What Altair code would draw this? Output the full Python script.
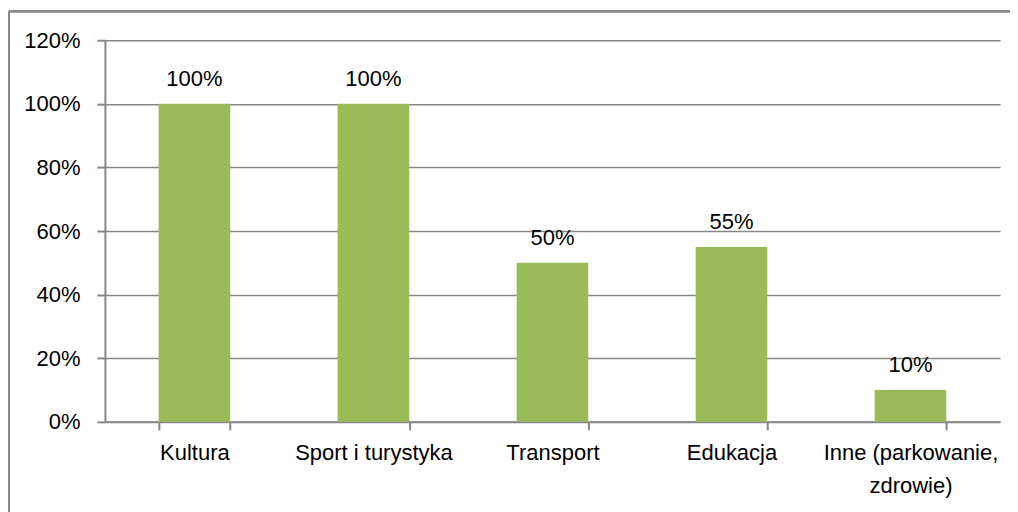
import altair as alt
import pandas as pd

categories = ["Kultura", "Sport i turystyka", "Transport", "Edukacja", "Inne (parkowanie, zdrowie)"]
values = [1.00, 1.00, 0.50, 0.55, 0.10]
labels = ["100%", "100%", "50%", "55%", "10%"]
y_ticks = [0, 0.2, 0.4, 0.6, 0.8, 1.0, 1.2]

df = pd.DataFrame({"cat": categories, "val": values, "lab": labels})

FONT = "Liberation Sans"
FS = 22
GRAY = "#878787"

x_enc = alt.X(
    "cat:N", sort=categories, title=None,
    scale=alt.Scale(paddingInner=0.6, paddingOuter=0.3),
    axis=alt.Axis(
        labelAngle=0, bandPosition=0, tickBand="extent", tickSize=8,
        tickColor=GRAY, tickWidth=2, domainColor=GRAY, domainWidth=2,
        labelFontSize=FS, labelFont=FONT, labelColor="black", labelPadding=13,
        labelLineHeight=33, labelBaseline="top", labelLimit=0,
        labelExpr="datum.label == 'Inne (parkowanie, zdrowie)' ? ['Inne (parkowanie,', 'zdrowie)'] : datum.label",
        grid=False,
    ),
)
y_enc = alt.Y(
    "val:Q", title=None,
    scale=alt.Scale(domain=[0, 1.2], nice=False),
    axis=alt.Axis(
        values=y_ticks, format=".0%", tickSize=8, tickColor=GRAY, tickWidth=2,
        domainColor=GRAY, domainWidth=2, gridColor=GRAY, gridWidth=1.5,
        labelFontSize=FS, labelFont=FONT, labelColor="black", labelPadding=17,
    ),
)

bars = alt.Chart(df).mark_bar(color="#9BBB59").encode(x=x_enc, y=y_enc)
text = alt.Chart(df).mark_text(
    baseline="bottom", dy=-13, fontSize=FS, font=FONT, color="black"
).encode(x=alt.X("cat:N", sort=categories), y="val:Q", text="lab:N")

border_v = alt.Chart(df).mark_rule(color=GRAY, strokeWidth=2, clip=False).encode(
    x=alt.value(-96), y=alt.value(-29), y2=alt.value(600)
)
border_h = alt.Chart(df).mark_rule(color=GRAY, strokeWidth=2, clip=False).encode(
    x=alt.value(-96), x2=alt.value(1020), y=alt.value(-29)
)

chart = alt.layer(bars, text, border_v, border_h).properties(
    width=896, height=382,
    autosize=alt.AutoSizeParams(type="none"),
    padding={"left": 97, "top": 32, "right": 10, "bottom": 110},
    background="white",
).configure_view(stroke=None)

chart.save("out.html", embed_options={"renderer": "svg", "actions": False})
